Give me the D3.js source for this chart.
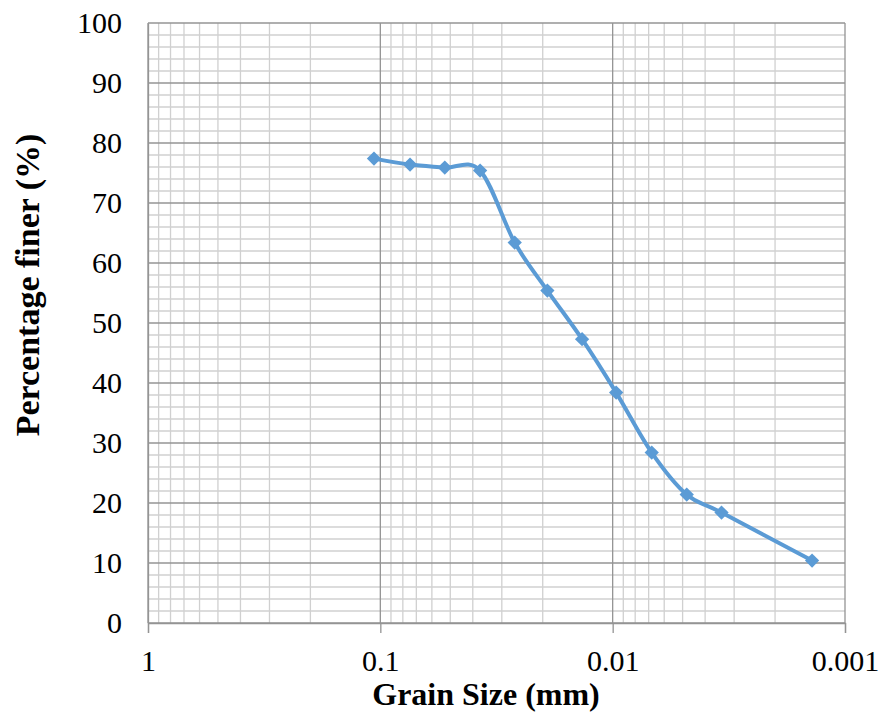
<!DOCTYPE html>
<html>
<head>
<meta charset="utf-8">
<script src="https://cdn.jsdelivr.net/npm/d3@7"></script>
<style>
  body { margin: 0; background: #fff; }
  text { font-family: "Liberation Serif", "Times New Roman", serif; }
</style>
</head>
<body>
<div id="chart"></div>
<script>
// grain size (mm) and percentage finer
let grainSize = [0.1065, 0.0745, 0.0528, 0.0372, 0.0264, 0.0191, 0.01354, 0.00966, 0.00679, 0.0048, 0.0034, 0.001386]
let finer = [77.4, 76.4, 75.9, 75.4, 63.4, 55.4, 47.3, 38.4, 28.4, 21.4, 18.4, 10.4]

let xTicks = [1, 0.1, 0.01, 0.001]
let xTickLabels = ["1", "0.1", "0.01", "0.001"]
let yTicks = [0, 10, 20, 30, 40, 50, 60, 70, 80, 90, 100]

let width = 880, height = 721
let margin = {top: 23, right: 35, bottom: 98, left: 148}

let svg = d3.select("#chart").append("svg")
  .attr("width", width)
  .attr("height", height)

// reversed log axis: 1 on the left, 0.001 on the right
let x = d3.scaleLog()
  .domain([1, 0.001])
  .range([margin.left, width - margin.right])

let y = d3.scaleLinear()
  .domain([0, 100])
  .range([height - margin.bottom, margin.top])

let grid = svg.append("g")

// minor vertical lines 2..9 in each decade
let minorX = []
for (let dec of [1, 0.1, 0.01]) {
  for (let k = 2; k <= 9; k++) minorX.push(dec * k / 10)
}
grid.selectAll(".vminor").data(minorX).enter().append("line")
  .attr("x1", d => x(d)).attr("x2", d => x(d))
  .attr("y1", y(0)).attr("y2", y(100))
  .style("stroke", "#d0d0d0").style("stroke-width", 1.3)

// minor horizontal lines every 2
let minorY = d3.range(2, 100, 2).filter(d => d % 10 != 0)
grid.selectAll(".hminor").data(minorY).enter().append("line")
  .attr("x1", x(1)).attr("x2", x(0.001))
  .attr("y1", d => y(d)).attr("y2", d => y(d))
  .style("stroke", "#d0d0d0").style("stroke-width", 1.3)

// major lines
grid.selectAll(".hmajor").data(yTicks).enter().append("line")
  .attr("x1", x(1)).attr("x2", x(0.001))
  .attr("y1", d => y(d)).attr("y2", d => y(d))
  .style("stroke", "#949494").style("stroke-width", 1.3)

grid.selectAll(".vmajor").data(xTicks).enter().append("line")
  .attr("x1", d => x(d)).attr("x2", d => x(d))
  .attr("y1", y(0)).attr("y2", y(100))
  .style("stroke", "#949494").style("stroke-width", 1.3)

// x axis
let xAxis = svg.append("g")
  .attr("transform", `translate(0,${y(0)})`)
  .call(d3.axisBottom(x).tickValues(xTicks).tickFormat((d, i) => xTickLabels[i]).tickSize(10).tickPadding(17))
xAxis.select(".domain").attr("stroke", "#949494").attr("stroke-width", 1.3)
xAxis.selectAll(".tick line").attr("stroke", "#949494").attr("stroke-width", 1.3)
xAxis.selectAll("text").style("font-size", "30px").attr("fill", "#000")

// y axis
let yAxis = svg.append("g")
  .attr("transform", `translate(${x(1)},0)`)
  .call(d3.axisLeft(y).tickValues(yTicks).tickSize(0).tickPadding(26))
yAxis.select(".domain").attr("stroke", "#949494").attr("stroke-width", 1.3)
yAxis.selectAll("text").style("font-size", "30px").attr("fill", "#000")

// the curve
let pts = grainSize.map((d, i) => [x(d), y(finer[i])])

svg.append("path")
  .datum(pts)
  .attr("d", d3.line().curve(d3.curveCardinal.tension(0)))
  .style("fill", "none")
  .style("stroke", "#5b9bd5")
  .style("stroke-width", 4)

svg.selectAll(".marker").data(pts).enter().append("path")
  .attr("transform", d => `translate(${d[0]},${d[1]})`)
  .attr("d", d3.symbol().type(d3.symbolDiamond2).size(130))
  .style("fill", "#5b9bd5")

// axis titles
svg.append("text")
  .attr("x", 486).attr("y", 705)
  .attr("text-anchor", "middle")
  .style("font-size", "32px").style("font-weight", "bold")
  .text("Grain Size (mm)")

svg.append("text")
  .attr("transform", "translate(39,285) rotate(-90)")
  .attr("text-anchor", "middle")
  .style("font-size", "34px").style("font-weight", "bold")
  .text("Percentage finer (%)")
</script>
</body>
</html>
